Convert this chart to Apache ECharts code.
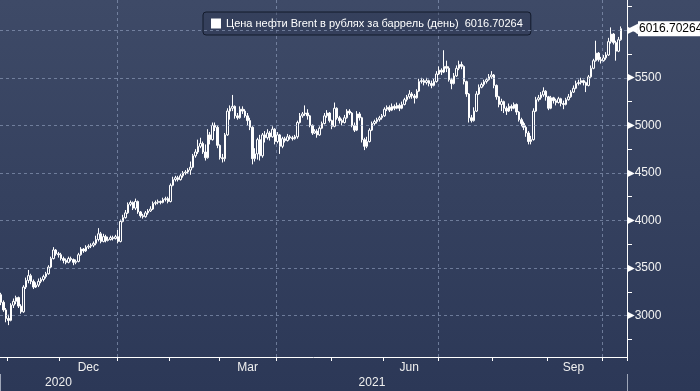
<!DOCTYPE html>
<html><head><meta charset="utf-8">
<script src="https://cdn.jsdelivr.net/npm/echarts@6/dist/echarts.min.js"></script>
<style>html,body{margin:0;padding:0;background:#36425f}#c{width:700px;height:391px}</style>
</head><body><div id="c"></div>
<script>
const seriesName = 'Цена нефти Brent в рублях за баррель (день)';
const startDate = '2020-10-28';
const categoryCount = 252;
const quarterLabelMonths = ['2020-12', '2021-03', '2021-06', '2021-09'];
const quarterLabels = ['Dec', 'Mar', 'Jun', 'Sep'];
const gridStartMonths = ['01', '04', '07', '10'];
const yLabelValues = [3000, 3500, 4000, 4500, 5000, 5500, 6000];
const yMinorTickValues = [2750, 3250, 3750, 4250, 4750, 5250, 5750, 6250];
const yMin = 2565, yMax = 6318;
// [open, close, low, high]
const ohlc = [
[3220,3140,3110,3240],[3140,3060,3040,3160],[3060,2970,2930,3080],[2970,2950,2900,3010],[2950,3110,2940,3130],
[3110,3150,3080,3180],[3150,3190,3120,3210],[3190,3100,3080,3200],[3100,3040,3020,3120],[3040,3300,3030,3320],
[3300,3370,3280,3400],[3370,3420,3340,3480],[3420,3360,3330,3440],[3360,3300,3280,3380],[3300,3320,3290,3350],
[3320,3360,3300,3390],[3360,3380,3340,3400],[3380,3410,3360,3430],[3410,3440,3390,3460],[3440,3510,3430,3530],
[3510,3600,3500,3620],[3600,3690,3590,3720],[3690,3650,3630,3700],[3650,3640,3610,3670],[3640,3600,3580,3660],
[3600,3580,3550,3620],[3580,3560,3540,3600],[3560,3600,3550,3620],[3600,3590,3570,3620],[3590,3560,3530,3600],
[3560,3570,3540,3590],[3570,3640,3560,3660],[3640,3700,3630,3720],[3700,3680,3660,3710],[3680,3720,3670,3740],
[3720,3730,3700,3750],[3730,3740,3710,3760],[3740,3760,3720,3780],[3760,3800,3740,3840],[3800,3860,3780,3920],
[3860,3780,3760,3880],[3780,3830,3770,3860],[3830,3790,3770,3850],[3790,3800,3780,3830],[3800,3820,3790,3840],
[3820,3810,3790,3840],[3810,3830,3800,3850],[3830,3780,3760,3900],[3780,3990,3770,4010],[3990,4030,3980,4060],
[4030,4080,4020,4110],[4080,4170,4070,4190],[4170,4190,4150,4210],[4190,4130,4110,4200],[4130,4200,4110,4230],
[4200,4090,4070,4210],[4090,4050,4030,4100],[4050,4040,4020,4070],[4040,4080,4030,4100],[4080,4100,4060,4120],
[4100,4120,4090,4150],[4120,4180,4110,4200],[4180,4190,4160,4210],[4190,4200,4170,4220],[4200,4190,4170,4210],
[4190,4220,4180,4240],[4220,4230,4200,4250],[4230,4200,4180,4250],[4200,4370,4190,4390],[4370,4430,4360,4460],
[4430,4450,4410,4470],[4450,4430,4410,4470],[4430,4470,4420,4490],[4470,4500,4450,4520],[4500,4510,4480,4530],
[4510,4530,4490,4550],[4530,4560,4480,4620],[4560,4680,4550,4700],[4680,4720,4660,4750],[4720,4780,4700,4850],
[4780,4810,4760,4870],[4810,4720,4700,4830],[4720,4660,4630,4800],[4660,4900,4650,4960],[4900,4850,4800,4930],
[4850,5000,4840,5030],[5000,4980,4940,5030],[4980,4790,4760,5000],[4790,4660,4640,4800],[4660,4650,4610,4700],
[4650,4900,4620,4920],[4900,5150,4890,5180],[5150,5180,5060,5210],[5180,5200,5150,5320],[5200,5100,5070,5210],
[5100,5080,5060,5130],[5080,5170,5070,5200],[5170,5150,5120,5200],[5150,5100,5080,5170],[5100,5050,5000,5130],
[5050,4980,4950,5080],[4980,4650,4590,4990],[4650,4700,4620,4760],[4700,4850,4640,4870],[4850,4680,4630,4900],
[4680,4900,4660,4920],[4900,4870,4820,4940],[4870,4920,4850,4960],[4920,4880,4840,4940],[4880,4960,4870,4990],
[4960,4830,4800,4970],[4830,4900,4810,4930],[4900,4780,4700,4910],[4780,4860,4760,4880],[4860,4840,4820,4880],
[4840,4880,4830,4910],[4880,4870,4850,4900],[4870,4860,4840,4890],[4860,4880,4850,4900],[4880,5030,4860,5050],
[5030,5100,5020,5130],[5100,5120,5080,5140],[5120,5130,5100,5210],[5130,5100,5060,5170],[5100,5000,4980,5110],
[5000,4920,4900,5010],[4920,4940,4910,4960],[4940,4900,4870,4960],[4900,4970,4890,4990],[4970,5020,4960,5040],
[5020,5100,5010,5130],[5100,5130,5080,5160],[5130,5050,5030,5140],[5050,4990,4960,5060],[4990,5180,4980,5240],
[5180,5080,5060,5190],[5080,5050,5020,5100],[5050,5030,5000,5070],[5030,5080,5020,5110],[5080,5150,5070,5170],
[5150,5130,5110,5170],[5130,5000,4980,5140],[5000,4950,4930,5030],[4950,5120,4940,5150],[5120,5080,5050,5140],
[5080,4850,4820,5090],[4850,4780,4740,4870],[4780,4830,4760,4880],[4830,4950,4820,4970],[4950,5020,4940,5040],
[5020,5040,5000,5060],[5040,5060,5020,5080],[5060,5080,5040,5100],[5080,5100,5060,5120],[5100,5170,5090,5190],
[5170,5190,5150,5210],[5190,5160,5140,5210],[5160,5200,5150,5230],[5200,5180,5160,5220],[5180,5210,5170,5240],
[5210,5180,5150,5230],[5180,5220,5170,5250],[5220,5270,5210,5290],[5270,5300,5250,5320],[5300,5330,5280,5370],
[5330,5310,5280,5350],[5310,5290,5230,5330],[5290,5360,5280,5380],[5360,5460,5350,5490],[5460,5470,5440,5500],
[5470,5450,5420,5490],[5450,5470,5430,5500],[5470,5440,5410,5480],[5440,5420,5390,5470],[5420,5460,5410,5490],
[5460,5540,5450,5570],[5540,5580,5530,5620],[5580,5560,5530,5600],[5560,5620,5550,5790],[5620,5600,5560,5680],
[5600,5480,5460,5620],[5480,5440,5380,5500],[5440,5520,5430,5550],[5520,5600,5510,5630],[5600,5640,5580,5680],
[5640,5620,5590,5670],[5620,5460,5430,5630],[5460,5330,5300,5470],[5330,5080,5030,5340],[5080,5050,5030,5110],
[5050,5150,5040,5190],[5150,5330,5140,5360],[5330,5400,5320,5430],[5400,5430,5390,5450],[5430,5460,5410,5480],
[5460,5480,5440,5500],[5480,5510,5470,5540],[5510,5530,5490,5570],[5530,5420,5390,5540],[5420,5300,5270,5430],
[5300,5220,5190,5310],[5220,5250,5150,5280],[5250,5180,5130,5260],[5180,5150,5110,5200],[5150,5200,5140,5230],
[5200,5180,5150,5220],[5180,5220,5170,5240],[5220,5140,5110,5230],[5140,5060,5040,5150],[5060,5020,4990,5080],
[5020,4980,4950,5040],[4980,4920,4880,5000],[4920,4830,4800,4940],[4830,4850,4800,4890],[4850,5150,4840,5180],
[5150,5270,5140,5300],[5270,5290,5250,5320],[5290,5320,5270,5350],[5320,5360,5300,5400],[5360,5300,5260,5370],
[5300,5180,5160,5310],[5180,5290,5170,5310],[5290,5260,5230,5300],[5260,5240,5210,5280],[5240,5280,5230,5300],
[5280,5230,5200,5290],[5230,5220,5170,5260],[5220,5270,5210,5290],[5270,5300,5260,5330],[5300,5350,5290,5370],
[5350,5390,5340,5420],[5390,5440,5380,5470],[5440,5450,5420,5480],[5450,5470,5430,5500],[5470,5450,5420,5480],
[5450,5420,5350,5460],[5420,5510,5410,5530],[5510,5600,5500,5630],[5600,5680,5590,5700],[5680,5760,5670,5890],
[5760,5690,5670,5770],[5690,5680,5650,5720],[5680,5710,5670,5740],[5710,5740,5690,5770],[5740,5880,5730,5920],
[5880,5960,5860,6030],[5960,5870,5850,5970],[5870,5780,5680,5890],[5780,5900,5770,5930],[5900,6016.70264,5890,6040]
];
const lastValue = ohlc[ohlc.length - 1][1];

// trading-day categories (weekdays)
const dates = [];
(function () {
  const d = new Date(startDate + 'T00:00:00Z');
  while (dates.length < categoryCount) {
    const wd = d.getUTCDay();
    if (wd !== 0 && wd !== 6) dates.push(d.toISOString().slice(0, 10));
    d.setUTCDate(d.getUTCDate() + 1);
  }
})();
const monthStart = i => i > 0 && dates[i].slice(0, 7) !== dates[i - 1].slice(0, 7);
const quarterStart = i => monthStart(i) && gridStartMonths.indexOf(dates[i].slice(5, 7)) >= 0;
const yearStart = i => i > 0 && dates[i].slice(0, 4) !== dates[i - 1].slice(0, 4);
function midIndex(prefix) {
  let first = -1, last = -1;
  dates.forEach((d, i) => { if (d.indexOf(prefix) === 0) { if (first < 0) first = i; last = i; } });
  return Math.floor((first + last) / 2);
}
const monthLabelAt = {};
quarterLabelMonths.forEach((m, k) => { monthLabelAt[midIndex(m)] = quarterLabels[k]; });
const yearLabelAt = {};
Array.from(new Set(dates.map(d => d.slice(0, 4)))).forEach(y => { yearLabelAt[midIndex(y)] = y; });

const FONT = 'Liberation Sans, Arial, sans-serif';
const gridLineStyle = { color: 'rgba(150,165,195,0.6)', width: 1, type: [3, 3] };

const chart = echarts.init(document.getElementById('c'), null, { renderer: 'canvas' });
chart.setOption({
  animation: false,
  backgroundColor: {
    type: 'linear', x: 0, y: 0, x2: 0, y2: 1,
    colorStops: [{ offset: 0, color: '#3e4a67' }, { offset: 1, color: '#2c3857' }]
  },
  textStyle: { fontFamily: FONT },
  grid: { left: 0, right: 73, top: 0, bottom: 34, containLabel: false, outerBoundsMode: 'none' },
  legend: {
    left: 203, top: 12, padding: [6, 8, 6, 8],
    itemWidth: 10, itemHeight: 10, icon: 'rect',
    borderColor: '#121a2b', borderWidth: 1, borderRadius: 3,
    backgroundColor: 'rgba(40,50,75,0.35)',
    textStyle: { color: '#ffffff', fontSize: 11, fontFamily: FONT },
    formatter: name => name + '  ' + lastValue,
    data: [{ name: seriesName, itemStyle: { color: '#ffffff', borderWidth: 0 } }]
  },
  xAxis: [{
    type: 'category', data: dates, boundaryGap: true,
    axisLine: { lineStyle: { color: '#ffffff', width: 1 } },
    axisTick: { show: true, interval: (i) => monthStart(i), length: 4, lineStyle: { color: '#ffffff' } },
    axisLabel: {
      interval: (i) => monthLabelAt[i] !== undefined,
      formatter: (v, i) => monthLabelAt[i] || '',
      color: '#f0f0f0', fontSize: 12, margin: 5, fontFamily: FONT
    },
    splitLine: { show: true, interval: (i) => quarterStart(i), lineStyle: gridLineStyle }
  }, {
    type: 'category', data: dates, boundaryGap: true, position: 'bottom', offset: 17,
    axisLine: { show: false },
    axisTick: { show: true, interval: (i) => yearStart(i), length: 17, lineStyle: { color: '#9ea6b8' } },
    axisLabel: {
      interval: (i) => yearLabelAt[i] !== undefined,
      formatter: (v, i) => yearLabelAt[i] || '',
      color: '#f0f0f0', fontSize: 12, margin: 3, fontFamily: FONT
    },
    splitLine: { show: false }
  }],
  yAxis: [{
    type: 'value', position: 'right', min: yMin, max: yMax,
    axisLine: { show: true, lineStyle: { color: '#ffffff', width: 1 } },
    axisTick: { show: true, customValues: yMinorTickValues, length: 5, lineStyle: { color: '#ffffff' } },
    axisLabel: {
      customValues: yLabelValues, margin: 0,
      formatter: v => '{t|▶}{v|' + v + '}',
      rich: {
        t: { fontSize: 10, color: '#ffffff', fontFamily: 'DejaVu Sans' },
        v: { fontSize: 12, color: '#f4f4f4', fontFamily: FONT }
      }
    },
    splitLine: { show: false }
  }, {
    type: 'value', position: 'right', min: yMin, max: yMax,
    axisLine: { show: false }, axisTick: { show: false }, splitLine: { show: false },
    axisLabel: {
      customValues: [lastValue], margin: 1,
      formatter: v => '{a|◀}{b|' + v + '}',
      rich: {
        a: { fontSize: 13, color: '#ffffff', fontFamily: 'DejaVu Sans' },
        b: { fontSize: 12, color: '#000000', backgroundColor: '#ffffff', padding: [2, 6, 1, 1], fontFamily: FONT }
      }
    }
  }],
  series: [{
    type: 'line', name: 'grid', data: [], z: 1, silent: true,
    xAxisIndex: 0, yAxisIndex: 0,
    markLine: {
      silent: true, symbol: 'none', label: { show: false },
      lineStyle: gridLineStyle,
      data: yLabelValues.map(v => ({ yAxis: v }))
    }
  }, {
    type: 'candlestick', name: seriesName, data: ohlc, z: 3,
    xAxisIndex: 0, yAxisIndex: 0,
    barWidth: 2,
    itemStyle: {
      color: '#36425f', color0: '#ffffff',
      borderColor: '#ffffff', borderColor0: '#ffffff', borderWidth: 1
    }
  }]
});
</script>
</body></html>
